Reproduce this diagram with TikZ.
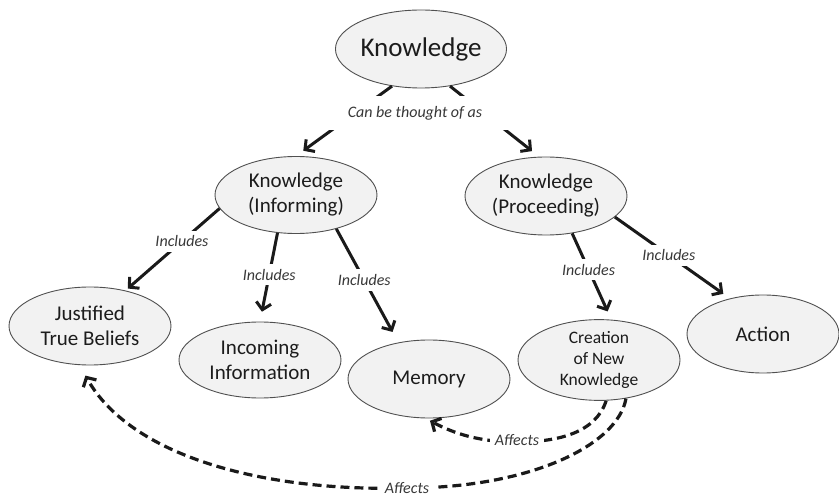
\documentclass[tikz,border=0pt]{standalone}
\usepackage{fontspec}
\setmainfont{Carlito}
\usetikzlibrary{shapes.geometric,arrows.meta}
\definecolor{ellfill}{HTML}{F2F2F2}
\definecolor{ellline}{HTML}{505050}
\definecolor{txt}{HTML}{1C1C1C}
\definecolor{lbltxt}{HTML}{383838}
\definecolor{arrc}{HTML}{1A1A1A}
\begin{document}
\begin{tikzpicture}[x=1pt,y=-1pt,
 ell/.style={ellipse,draw=ellline,line width=0.9pt,fill=ellfill,inner sep=0pt,
   minimum width=162pt,minimum height=77pt,text=txt,align=center,
   font=\fontsize{21}{25}\selectfont},
 conn/.style={draw=arrc,line width=3pt,-{Straight Barb[length=7pt,width=15pt]}},
 dconn/.style={conn,line width=3.2pt,dash pattern=on 9pt off 5pt},
 lbl/.style={fill=white,text=lbltxt,font=\fontsize{16}{19}\selectfont\itshape,inner sep=5pt}]
\useasboundingbox (0,0) rectangle (839,497);
\fill[white] (0,0) rectangle (839,497);

\node[ell,minimum width=160pt,minimum height=78pt,font=\fontsize{27}{30}\selectfont] (K) at (421,49) {Knowledge};
\node[ell] (KI) at (296,195) {Knowledge\\(Informing)};
\node[ell,minimum height=78pt] (KP) at (546,196) {Knowledge\\(Proceeding)};
\node[ell,minimum height=78pt] (JTB) at (90,326) {Justified\\True Beliefs};
\node[ell,minimum height=76pt] (INC) at (260,360) {Incoming\\Information};
\node[ell,minimum height=78pt] (MEM) at (429,379) {Memory};
\node[ell,minimum height=78pt,font=\fontsize{17.5}{21}\selectfont] (CN) at (599,360) {Creation\\of New\\Knowledge};
\node[ell,minimum width=152pt,minimum height=78pt] (ACT) at (763,334) {Action};

% Knowledge -> two kinds
\draw[conn,shorten >=9pt] (K.232) -- (KI.north);
\draw[conn,shorten >=9pt] (K.-52) -- (KP.100);
\node[lbl,minimum width=236pt,minimum height=34pt] (CT) at (415,113) {Can be thought of as};

% Includes
\draw[conn,shorten >=3pt] (KI.190) -- node[lbl,pos=.4] (L1) {Includes} (JTB.45);
\draw[conn,shorten >=10pt] (KI.244) -- node[lbl,pos=.47] (L2) {Includes} (INC.north);
\draw[conn,shorten >=12pt] (KI.-40) -- node[lbl,pos=.45] (L3) {Includes} (MEM.130);
\draw[conn,shorten >=9pt] (KP.-55) -- node[lbl,pos=.42] (L4) {Includes} (CN.73);
\draw[conn,shorten >=8pt] (KP.-17) -- node[lbl,pos=.47] (L5) {Includes} (ACT.133);

% Affects
\draw[dconn,shorten >=5pt] (CN.-80) .. controls (596,432) and (560,442) .. (517,442)
  .. controls (480,442) and (455,434) .. (MEM.-95);
\node[lbl] (A1) at (517,440) {Affects};
\draw[dconn,shorten >=12pt] (CN.-55) .. controls (618,445) and (530,488) .. (407,488)
  .. controls (260,492) and (130,455) .. (JTB.-105);
\node[lbl] (A2) at (407,488) {Affects};
\end{tikzpicture}
\end{document}
